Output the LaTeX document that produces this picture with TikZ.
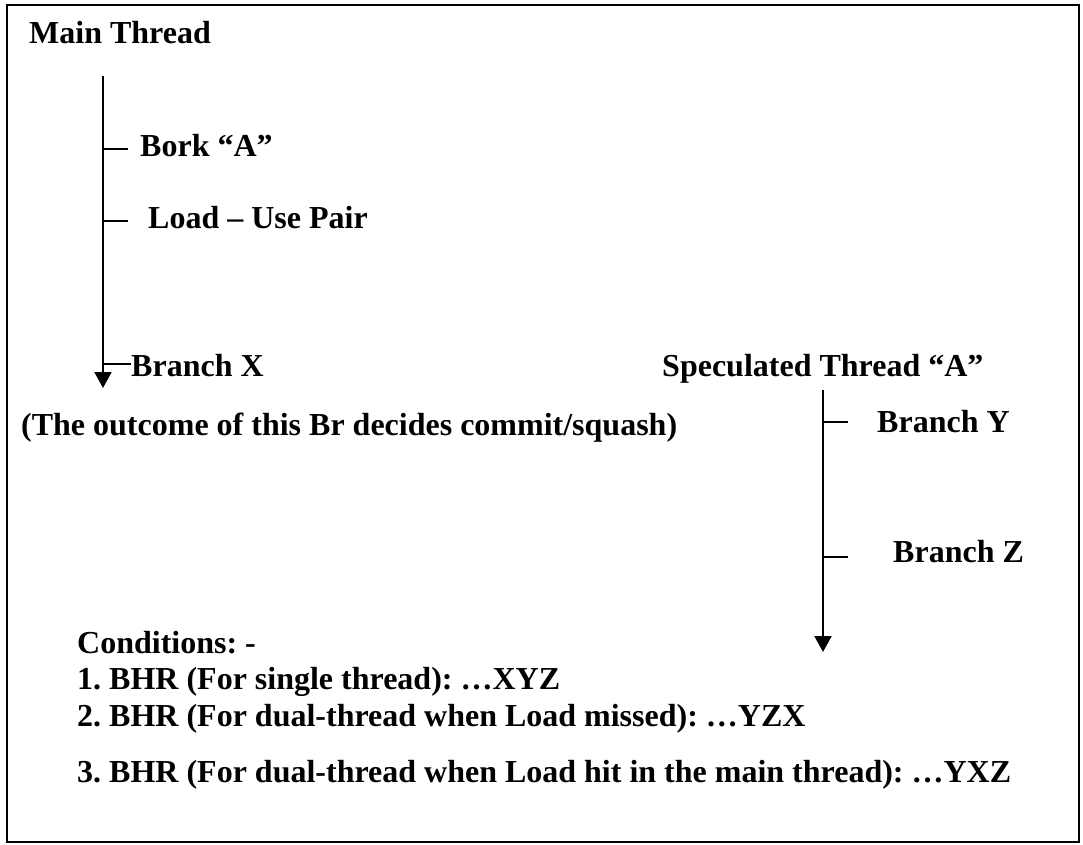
\documentclass[tikz,border=0pt]{standalone}
\usepackage{fontspec}
\setmainfont{Liberation Serif}
\usetikzlibrary{arrows.meta}
\frenchspacing
\begin{document}
\begin{tikzpicture}[x=1pt,y=-1pt,
  lbl/.style={anchor=base west,inner sep=0pt,font=\fontsize{32}{37}\selectfont\bfseries\frenchspacing},
  thread/.style={line width=2pt,-{Triangle[width=17pt,length=16pt]}},
  tickline/.style={line width=2pt}]
\useasboundingbox (0,0) rectangle (1083,845);
\draw[line width=2pt] (7,5) rectangle (1079,842);

% Main thread
\node[lbl] (main) at (29,44) {Main Thread};
\coordinate (mtop) at (103,76);
\coordinate (mend) at (103,388);
\draw[thread] (mtop) -- (mend);
\coordinate (tb) at (103,149);
\coordinate (tl) at (103,221);
\coordinate (tx) at (103,364);
\node[lbl] (bork) at (140,157) {Bork “A”};
\node[lbl] (load) at (148,228) {Load – Use Pair};
\node[lbl] (brx) at (131,376) {Branch X};
\draw[tickline] (tb) -- (128,149);
\draw[tickline] (tl) -- (128,221);
\draw[tickline] (tx) -- (brx.west |- tx);

\node[lbl] (outcome) at (21,435) {(The outcome of this Br decides commit/squash)};

% Speculated thread
\node[lbl] (spec) at (662,376) {Speculated Thread “A”};
\coordinate (stop) at (823,390);
\coordinate (send) at (823,652);
\draw[thread] (stop) -- (send);
\coordinate (ty) at (823,422);
\coordinate (tz) at (823,557);
\draw[tickline] (ty) -- (848,422);
\draw[tickline] (tz) -- (848,557);
\node[lbl] (bry) at (877,432) {Branch Y};
\node[lbl] (brz) at (893,562) {Branch Z};

% Conditions
\node[lbl] (cond) at (77,653) {Conditions: -};
\node[lbl] (c1) at (77,689) {1. BHR (For single thread): …XYZ};
\node[lbl] (c2) at (77,726) {2. BHR (For dual-thread when Load missed): …YZX};
\node[lbl] (c3) at (77,782) {3. BHR (For dual-thread when Load hit in the main thread): …YXZ};
\end{tikzpicture}
\end{document}
